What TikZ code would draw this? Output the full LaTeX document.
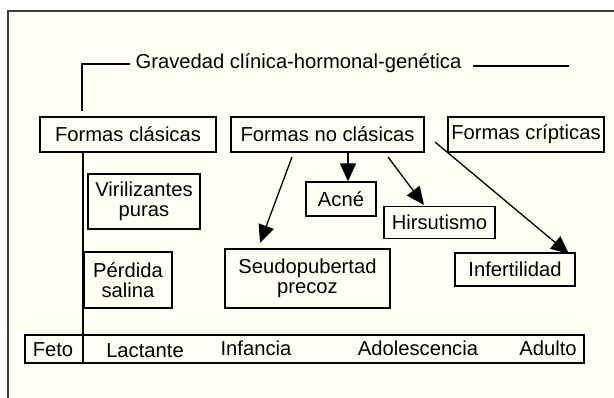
\documentclass[tikz,border=0pt]{standalone}
\usepackage{fontspec}
\setmainfont{Liberation Sans}
\usetikzlibrary{arrows.meta}
\definecolor{cream}{RGB}{255,255,243}
\definecolor{framegray}{RGB}{60,60,60}
\begin{document}
\begin{tikzpicture}[x=1pt,y=-1pt,
  every node/.style={font=\fontsize{20.2}{20.5}\selectfont, inner sep=0pt, align=center},
  box/.style={draw, line width=1.3pt, minimum width=#1},
  ln/.style={line width=1.3pt},
  arr/.style={line width=1.3pt, -{Triangle[length=18pt,width=16pt]}}]
\useasboundingbox (0,0) rectangle (614,398);
\fill[white] (0,0) rectangle (614,398);
\fill[cream] (8,11) rectangle (614,398);
\draw[framegray, line width=1.4pt] (614,11) -- (8,11) -- (8,398);

% title
\node (title) at (298.5,63) {Gravedad clínica-hormonal-genética};
\coordinate (brk) at (82,111);
\coordinate (brt) at (130,64);
\draw[ln] (brt) -| (brk);
\coordinate (rl0) at (473,66);
\coordinate (rl1) at (569,66);
\draw[ln] (rl0) -- (rl1);

% top boxes
\node[box=176pt, minimum height=35pt] (fc) at (128,134.5) {Formas clásicas};
\node[box=193pt, minimum height=35pt] (fnc) at (327.5,134.5) {Formas no clásicas};
\node[box=156pt, minimum height=35pt] (fcr) at (526,134.5) {Formas crípticas};

% lower boxes
\node[box=112pt, minimum height=55pt] (vir) at (144,201.5) {Virilizantes\\puras};
\node[box=88pt, minimum height=56pt] (per) at (128,280) {Pérdida\\salina};
\node[box=70pt, minimum height=34pt] (acne) at (341,199) {Acné};
\node[box=111pt, minimum height=32pt] (hir) at (439.5,222.5) {Hirsutismo};
\node[box=165pt, minimum height=59pt] (seu) at (307.5,278.5) {Seudopubertad\\precoz};
\node[box=120pt, minimum height=33pt] (inf) at (515,269.5) {Infertilidad};

% timeline
\node[box=559pt, minimum height=28pt] (tl) at (304.5,349) {};
\node[anchor=base] (feto) at (53,357) {Feto};
\node[anchor=base] (lac) at (145,357.5) {Lactante};
\node[anchor=base] (infa) at (256,356) {Infancia};
\node[anchor=base] (adol) at (418,356) {Adolescencia};
\node[anchor=base] (adul) at (548,356) {Adulto};
\coordinate (vl) at (83,363);
\draw[ln] (fc.south -| vl) -- (tl.south -| vl);

% arrows
\coordinate (a1s) at (292,157);
\coordinate (a1t) at (260,243);
\draw[arr] (a1s) -- (a1t);
\coordinate (a2s) at (348,152);
\draw[arr] (a2s) -- (acne.north -| a2s);
\coordinate (a3s) at (388,157);
\coordinate (a3t) at (424,205);
\draw[arr] (a3s) -- (a3t);
\coordinate (a4s) at (435,142);
\coordinate (a4t) at (569,254);
\draw[arr] (a4s) -- (a4t);
\end{tikzpicture}
\end{document}
